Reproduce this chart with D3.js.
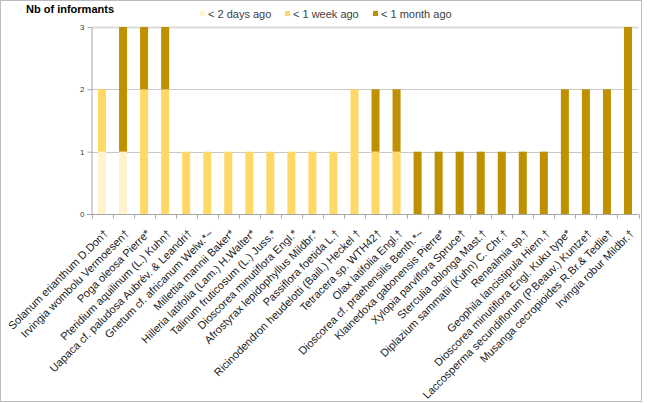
<!DOCTYPE html>
<html><head><meta charset="utf-8">
<script src="https://cdn.jsdelivr.net/npm/d3@7"></script>
<style>body{margin:0;background:#fff}svg{display:block;font-family:"Liberation Sans",Arial,sans-serif}</style>
</head><body>
<svg id="c" width="647" height="403"></svg>
<script>
const categories = ["Solanum erianthum D.Don†","Irvingia wombolu Vermoesen†","Poga oleosa Pierre*","Pteridium aquilinum (L.) Kuhn†","Uapaca cf. paludosa Aubrév. & Leandri†","Gnetum cf. africanum Welw.*~","Millettia mannii Baker*","Hilleria latifolia (Lam.) H.Walter*","Talinum fruticosum (L.) Juss.*","Dioscorea minutiflora Engl.*","Afrostyrax lepidophyllus Mildbr.*","Passiflora foetida L.†","Ricinodendron heudelotti (Baill.) Heckel †","Tetracera sp. WTH42†","Olax latifolia Engl.†","Dioscorea cf. praehensilis Benth.*~","Klainedoxa gabonensis Pierre*","Xylopia parviflora Spruce†","Sterculia oblonga Mast.†","Diplazium sammatii (Kuhn) C. Chr.†","Renealmia sp.†","Geophila lancistipula Hiern.†","Dioscorea minutiflora Engl. Kuku type*","Laccosperma secundiflorum (P.Beauv.) Kuntze†","Musanga cecropioides R.Br.& Tedlie†","Irvingia robur Mildbr.†"];
const lessThan2Days  = [1,1,0,0,0,0,0,0,0,0,0,0,0,0,0,0,0,0,0,0,0,0,0,0,0,0];
const lessThan1Week  = [1,0,2,2,1,1,1,1,1,1,1,1,2,1,1,0,0,0,0,0,0,0,0,0,0,0];
const lessThan1Month = [0,2,1,1,0,0,0,0,0,0,0,0,0,1,1,1,1,1,1,1,1,1,2,2,2,3];
const seriesNames = ["< 2 days ago","< 1 week ago","< 1 month ago"];
const seriesColors = ["#FFF2CC","#FFD966","#BF9000"];
const yTicks = [0,1,2,3];
const yTitle = "Nb of informants";

const svg = d3.select("#c");
svg.append("rect").attr("x",0.5).attr("y",0.5).attr("width",641).attr("height",401)
  .attr("fill","#fff").attr("stroke","#bdbdbd");

const x = d3.scaleBand().domain(categories).range([91.5,638.5]).paddingInner(13/21).paddingOuter(6.5/21);
const y = d3.scaleLinear().domain([0,3]).range([214,27]);

// gridlines
svg.append("g").selectAll("line").data(yTicks.filter(t=>t>0)).join("line")
  .attr("x1",91).attr("x2",638.5)
  .attr("y1",d=>Math.round(y(d))+0.5).attr("y2",d=>Math.round(y(d))+0.5)
  .attr("stroke",d=>d===3?"#dcdcdc":"#c8c8c8").attr("stroke-width",d=>d===3?2:1);

// stacked data
const table = categories.map((c,i)=>({cat:c, s0:lessThan2Days[i], s1:lessThan1Week[i], s2:lessThan1Month[i]}));
const stack = d3.stack().keys(["s0","s1","s2"])(table);
svg.append("g").selectAll("g").data(stack).join("g")
  .attr("fill",(d,i)=>seriesColors[i])
  .selectAll("rect").data(d=>d.filter(v=>v[1]>v[0])).join("rect")
  .attr("x",d=>x(d.data.cat)).attr("width",x.bandwidth())
  .attr("y",d=>y(d[1])).attr("height",d=>y(d[0])-y(d[1]));

// y axis
const yAxis = svg.append("g").attr("transform","translate(91.5,0)")
  .call(d3.axisLeft(y).tickValues(yTicks).tickFormat(d3.format("d")).tickSize(4).tickSizeOuter(0));
yAxis.select(".domain").attr("stroke","#a6a6a6");
yAxis.selectAll(".tick line").attr("stroke","#a6a6a6");
yAxis.selectAll(".tick text").attr("font-size",8).attr("fill","#404040").attr("x",-7)
  .attr("font-family","Liberation Sans, Arial, sans-serif");

// x axis
const xg = svg.append("g").attr("transform","translate(0,214.5)");
xg.append("line").attr("x1",87).attr("x2",638.5).attr("stroke","#a6a6a6");
const bounds = d3.range(categories.length+1).map(i=>x.range()[0]+i*x.step());
xg.selectAll(".tk").data(bounds).join("line").attr("class","tk")
  .attr("x1",d=>Math.round(d)+0.5).attr("x2",d=>Math.round(d)+0.5).attr("y1",0).attr("y2",4)
  .attr("stroke","#a6a6a6");
xg.selectAll(".lbl").data(categories).join("text").attr("class","lbl")
  .attr("transform",d=>`translate(${x(d)+x.bandwidth()/2+4},${17}) rotate(-45)`)
  .attr("text-anchor","end").attr("dy","0.35em")
  .attr("font-size",11).attr("fill","#1a1a1a").text(d=>d);

// title
svg.append("text").attr("x",26).attr("y",13).attr("font-size",11).attr("font-weight","bold")
  .attr("fill","#000").text(yTitle);

// legend
const legX = [200,285,373];
const lg = svg.append("g").selectAll("g").data(seriesNames).join("g")
  .attr("transform",(d,i)=>`translate(${legX[i]},0)`);
lg.append("rect").attr("x",0).attr("y",11).attr("width",5).attr("height",5).attr("fill",(d,i)=>seriesColors[i]);
lg.append("text").attr("x",8).attr("y",18).attr("font-size",11).attr("fill","#404040").text(d=>d);
</script>
</body></html>
